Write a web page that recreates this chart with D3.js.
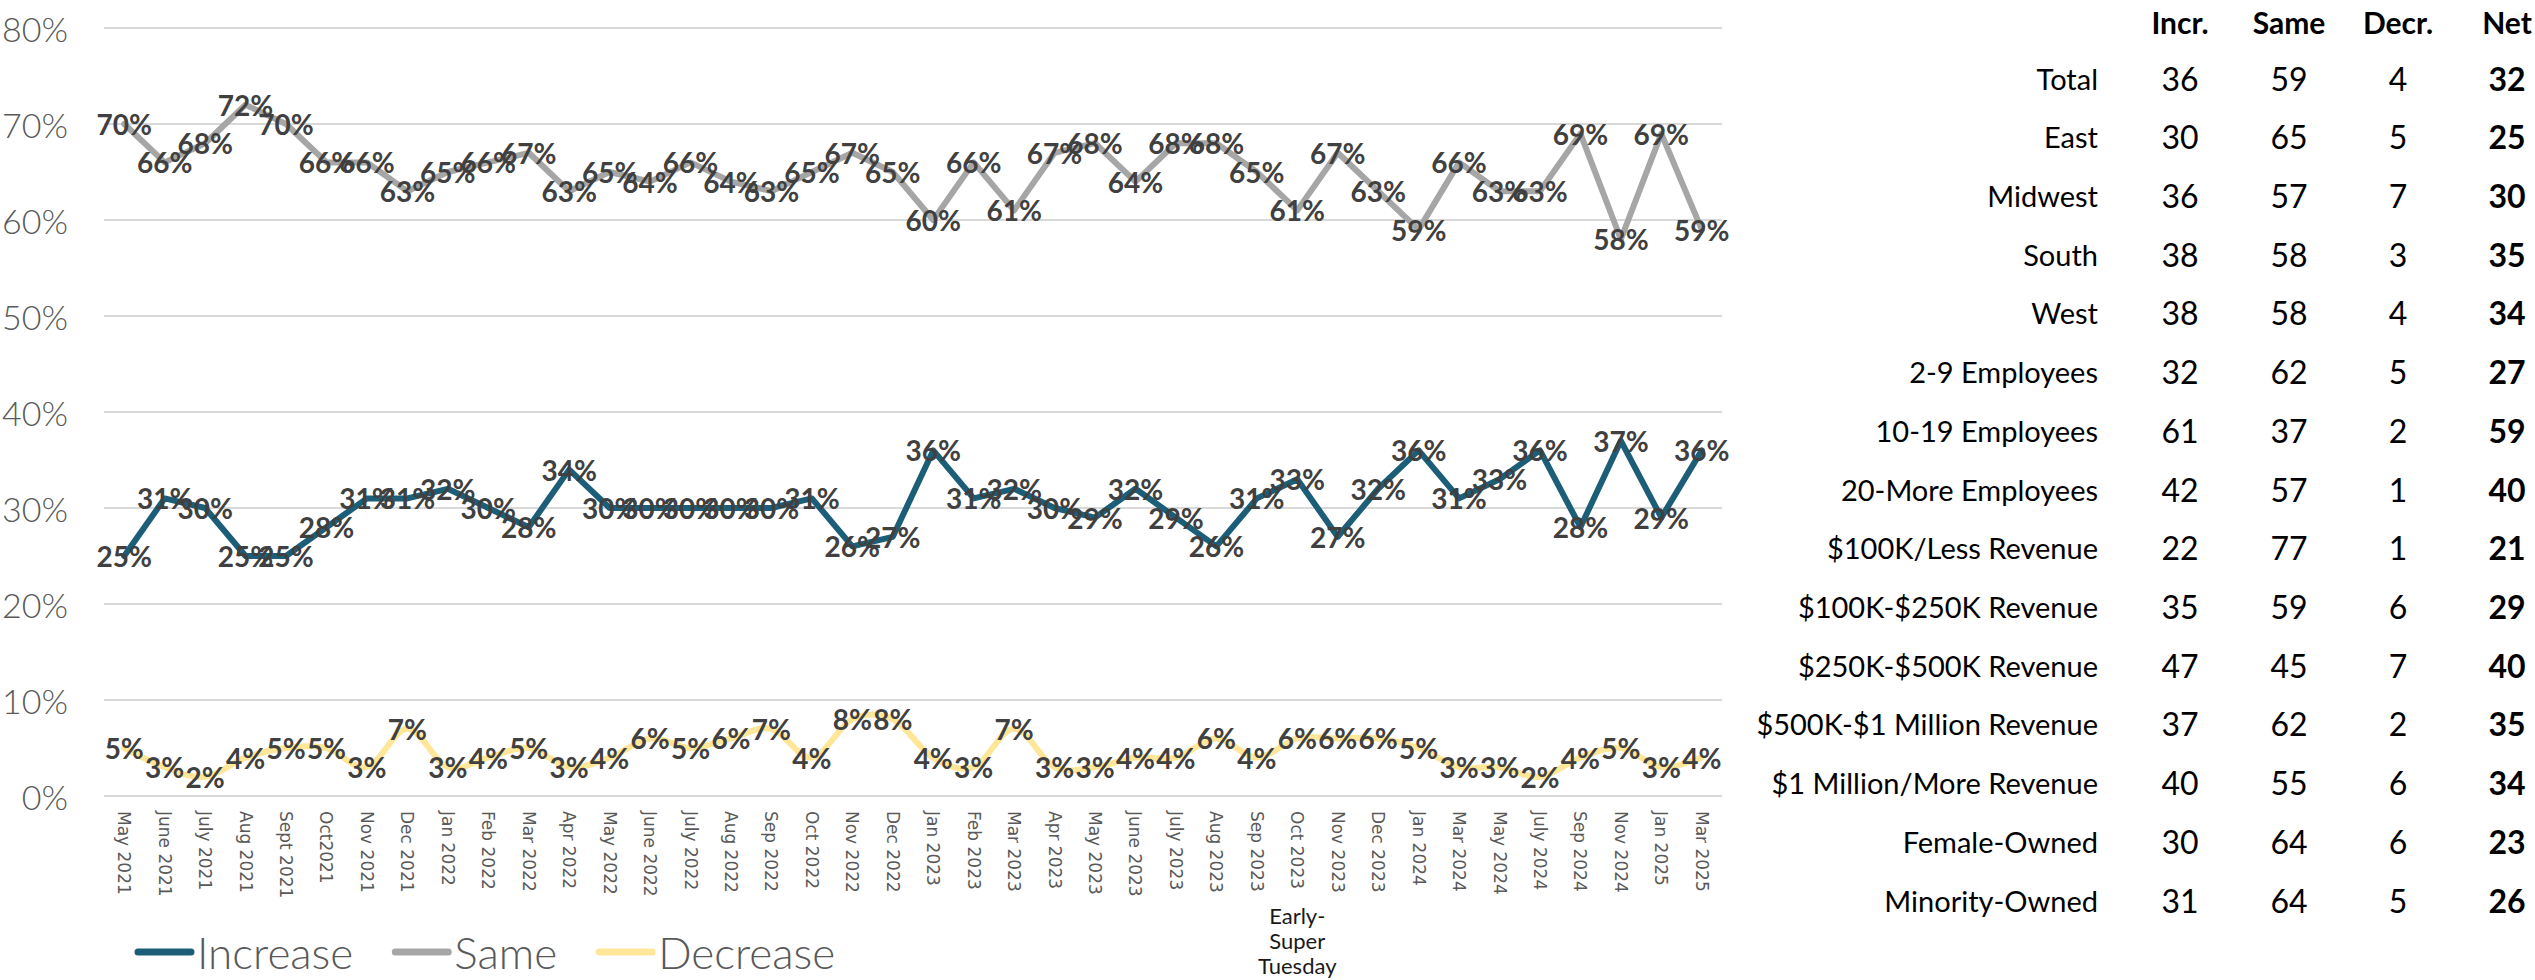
<!DOCTYPE html>
<html>
<head>
<meta charset="utf-8">
<script src="https://cdn.jsdelivr.net/npm/d3@7"></script>
<style>
  html, body { margin: 0; padding: 0; background: #ffffff; }
  svg { display: block; }
</style>
</head>
<body>
<svg id="chart" width="2535" height="980"></svg>
<script>
// Survey months (x categories)
const months = [
  "May 2021", "June 2021", "July 2021", "Aug 2021", "Sept 2021", "Oct2021", "Nov 2021", "Dec 2021",
  "Jan 2022", "Feb 2022", "Mar 2022", "Apr 2022", "May 2022", "June 2022", "July 2022", "Aug 2022",
  "Sep 2022", "Oct 2022", "Nov 2022", "Dec 2022", "Jan 2023", "Feb 2023", "Mar 2023", "Apr 2023",
  "May 2023", "June 2023", "July 2023", "Aug 2023", "Sep 2023", "Oct 2023", "Nov 2023", "Dec 2023",
  "Jan 2024", "Mar 2024", "May 2024", "July 2024", "Sep 2024", "Nov 2024", "Jan 2025", "Mar 2025"
];

// Share of respondents (%) per month
const increase = [25, 31, 30, 25, 25, 28, 31, 31, 32, 30, 28, 34, 30, 30, 30, 30, 30, 31, 26, 27,
                  36, 31, 32, 30, 29, 32, 29, 26, 31, 33, 27, 32, 36, 31, 33, 36, 28, 37, 29, 36];
const same     = [70, 66, 68, 72, 70, 66, 66, 63, 65, 66, 67, 63, 65, 64, 66, 64, 63, 65, 67, 65,
                  60, 66, 61, 67, 68, 64, 68, 68, 65, 61, 67, 63, 59, 66, 63, 63, 69, 58, 69, 59];
const decrease = [5, 3, 2, 4, 5, 5, 3, 7, 3, 4, 5, 3, 4, 6, 5, 6, 7, 4, 8, 8,
                  4, 3, 7, 3, 3, 4, 4, 6, 4, 6, 6, 6, 5, 3, 3, 2, 4, 5, 3, 4];

const yTicks = [0, 10, 20, 30, 40, 50, 60, 70, 80];
const seriesNames = ["Increase", "Same", "Decrease"];

// Note placed under one month's label
const noteMonth = "Oct 2023";
const noteLines = ["Early-", "Super", "Tuesday"];

// Latest-month breakdown table
const groups = [
  "Total", "East", "Midwest", "South", "West", "2-9 Employees", "10-19 Employees",
  "20-More Employees", "$100K/Less Revenue", "$100K-$250K Revenue", "$250K-$500K Revenue",
  "$500K-$1 Million Revenue", "$1 Million/More Revenue", "Female-Owned", "Minority-Owned"
];
const columnHeads = ["Incr.", "Same", "Decr.", "Net"];
const incrCol = [36, 30, 36, 38, 38, 32, 61, 42, 22, 35, 47, 37, 40, 30, 31];
const sameCol = [59, 65, 57, 58, 58, 62, 37, 57, 77, 59, 45, 62, 55, 64, 64];
const decrCol = [4, 5, 7, 3, 4, 5, 2, 1, 1, 6, 7, 2, 6, 6, 5];
const netCol  = [32, 25, 30, 35, 34, 27, 59, 40, 21, 29, 40, 35, 34, 23, 26];

// ---- styling ----
const colors = { Increase: "#1C5E78", Same: "#A6A6A6", Decrease: "#FFE699" };
const bodyFont = "Lato, 'Open Sans', sans-serif";

const svg = d3.select("#chart");
svg.append("rect").attr("width", 2535).attr("height", 980).attr("fill", "#ffffff");

// ---- line chart ----
const plot = { left: 104, right: 1722, top: 28, bottom: 796 };

const x = d3.scalePoint()
  .domain(months)
  .range([plot.left, plot.right])
  .padding(0.5);

const y = d3.scaleLinear()
  .domain([0, 80])
  .range([plot.bottom, plot.top]);

// horizontal gridlines
svg.append("g")
  .selectAll("line")
  .data(yTicks)
  .join("line")
  .attr("x1", plot.left)
  .attr("x2", plot.right)
  .attr("y1", d => y(d))
  .attr("y2", d => y(d))
  .attr("stroke", "#D9D9D9")
  .attr("stroke-width", 2);

// y-axis labels
svg.append("g")
  .selectAll("text")
  .data(yTicks)
  .join("text")
  .attr("x", 68)
  .attr("y", d => y(d))
  .attr("text-anchor", "end")
  .attr("dominant-baseline", "central")
  .attr("font-family", bodyFont)
  .attr("font-weight", 300)
  .attr("font-size", 34)
  .attr("fill", "#595959")
  .text(d => d + "%");

// x-axis labels, rotated to read top to bottom
svg.append("g")
  .selectAll("text")
  .data(months)
  .join("text")
  .attr("transform", d => `translate(${x(d)},811) rotate(90)`)
  .attr("text-anchor", "start")
  .attr("dominant-baseline", "central")
  .attr("font-family", "'DejaVu Sans', Verdana, sans-serif")
  .attr("font-size", 17)
  .attr("fill", "#595959")
  .text(d => d);

// note under the x label
svg.append("text")
  .attr("x", x(noteMonth))
  .attr("text-anchor", "middle")
  .attr("font-family", bodyFont)
  .attr("font-size", 22)
  .attr("fill", "#1a1a1a")
  .selectAll("tspan")
  .data(noteLines)
  .join("tspan")
  .attr("x", x(noteMonth))
  .attr("y", (d, i) => 924 + i * 25)
  .text(d => d);

const seriesData = [
  { name: "Increase", values: increase, curve: d3.curveLinear },
  { name: "Same", values: same, curve: d3.curveLinear },
  { name: "Decrease", values: decrease, curve: d3.curveCatmullRom.alpha(0) }
];

const lineGroup = svg.append("g");
seriesData.forEach(s => {
  const line = d3.line()
    .x((d, i) => x(months[i]))
    .y(d => y(d))
    .curve(s.curve);
  lineGroup.append("path")
    .datum(s.values)
    .attr("d", line)
    .attr("fill", "none")
    .attr("stroke", colors[s.name])
    .attr("stroke-width", 6)
    .attr("stroke-linejoin", "round")
    .attr("stroke-linecap", "round");
});

// value labels centred on each point
const labelGroup = svg.append("g")
  .attr("font-family", bodyFont)
  .attr("font-weight", 700)
  .attr("font-size", 28)
  .attr("fill", "#404040")
  .attr("text-anchor", "middle")
  .attr("dominant-baseline", "central");
seriesData.forEach(s => {
  labelGroup.append("g")
    .selectAll("text")
    .data(s.values)
    .join("text")
    .attr("x", (d, i) => x(months[i]))
    .attr("y", d => y(d))
    .text(d => d + "%");
});

// legend
const legend = svg.append("g");
let lx = 138;
const ly = 952;
seriesNames.forEach(name => {
  legend.append("line")
    .attr("x1", lx).attr("x2", lx + 53)
    .attr("y1", ly).attr("y2", ly)
    .attr("stroke", colors[name])
    .attr("stroke-width", 7)
    .attr("stroke-linecap", "round");
  const t = legend.append("text")
    .attr("x", lx + 59)
    .attr("y", ly)
    .attr("dominant-baseline", "central")
    .attr("font-family", bodyFont)
    .attr("font-weight", 300)
    .attr("font-size", 44)
    .attr("fill", "#595959")
    .text(name);
  lx += 59 + t.node().getComputedTextLength() + 42;
});

// ---- table ----
const colX = d3.scalePoint()
  .domain(columnHeads)
  .range([2180, 2507]);

const rowY = d3.scalePoint()
  .domain(groups)
  .range([78, 900]);

const table = svg.append("g").attr("font-family", bodyFont).attr("fill", "#000000");

table.append("g")
  .selectAll("text")
  .data(columnHeads)
  .join("text")
  .attr("x", d => colX(d))
  .attr("y", 22)
  .attr("text-anchor", "middle")
  .attr("dominant-baseline", "central")
  .attr("font-weight", 700)
  .attr("font-size", 30)
  .text(d => d);

table.append("g")
  .selectAll("text")
  .data(groups)
  .join("text")
  .attr("x", 2098)
  .attr("y", d => rowY(d))
  .attr("text-anchor", "end")
  .attr("dominant-baseline", "central")
  .attr("font-size", 29)
  .text(d => d);

const columns = [
  { head: "Incr.", values: incrCol, bold: false },
  { head: "Same", values: sameCol, bold: false },
  { head: "Decr.", values: decrCol, bold: false },
  { head: "Net", values: netCol, bold: true }
];
columns.forEach(c => {
  table.append("g")
    .selectAll("text")
    .data(c.values)
    .join("text")
    .attr("x", colX(c.head))
    .attr("y", (d, i) => rowY(groups[i]))
    .attr("text-anchor", "middle")
    .attr("dominant-baseline", "central")
    .attr("font-weight", c.bold ? 700 : 400)
    .attr("font-size", 32)
    .text(d => d);
});
</script>
</body>
</html>
